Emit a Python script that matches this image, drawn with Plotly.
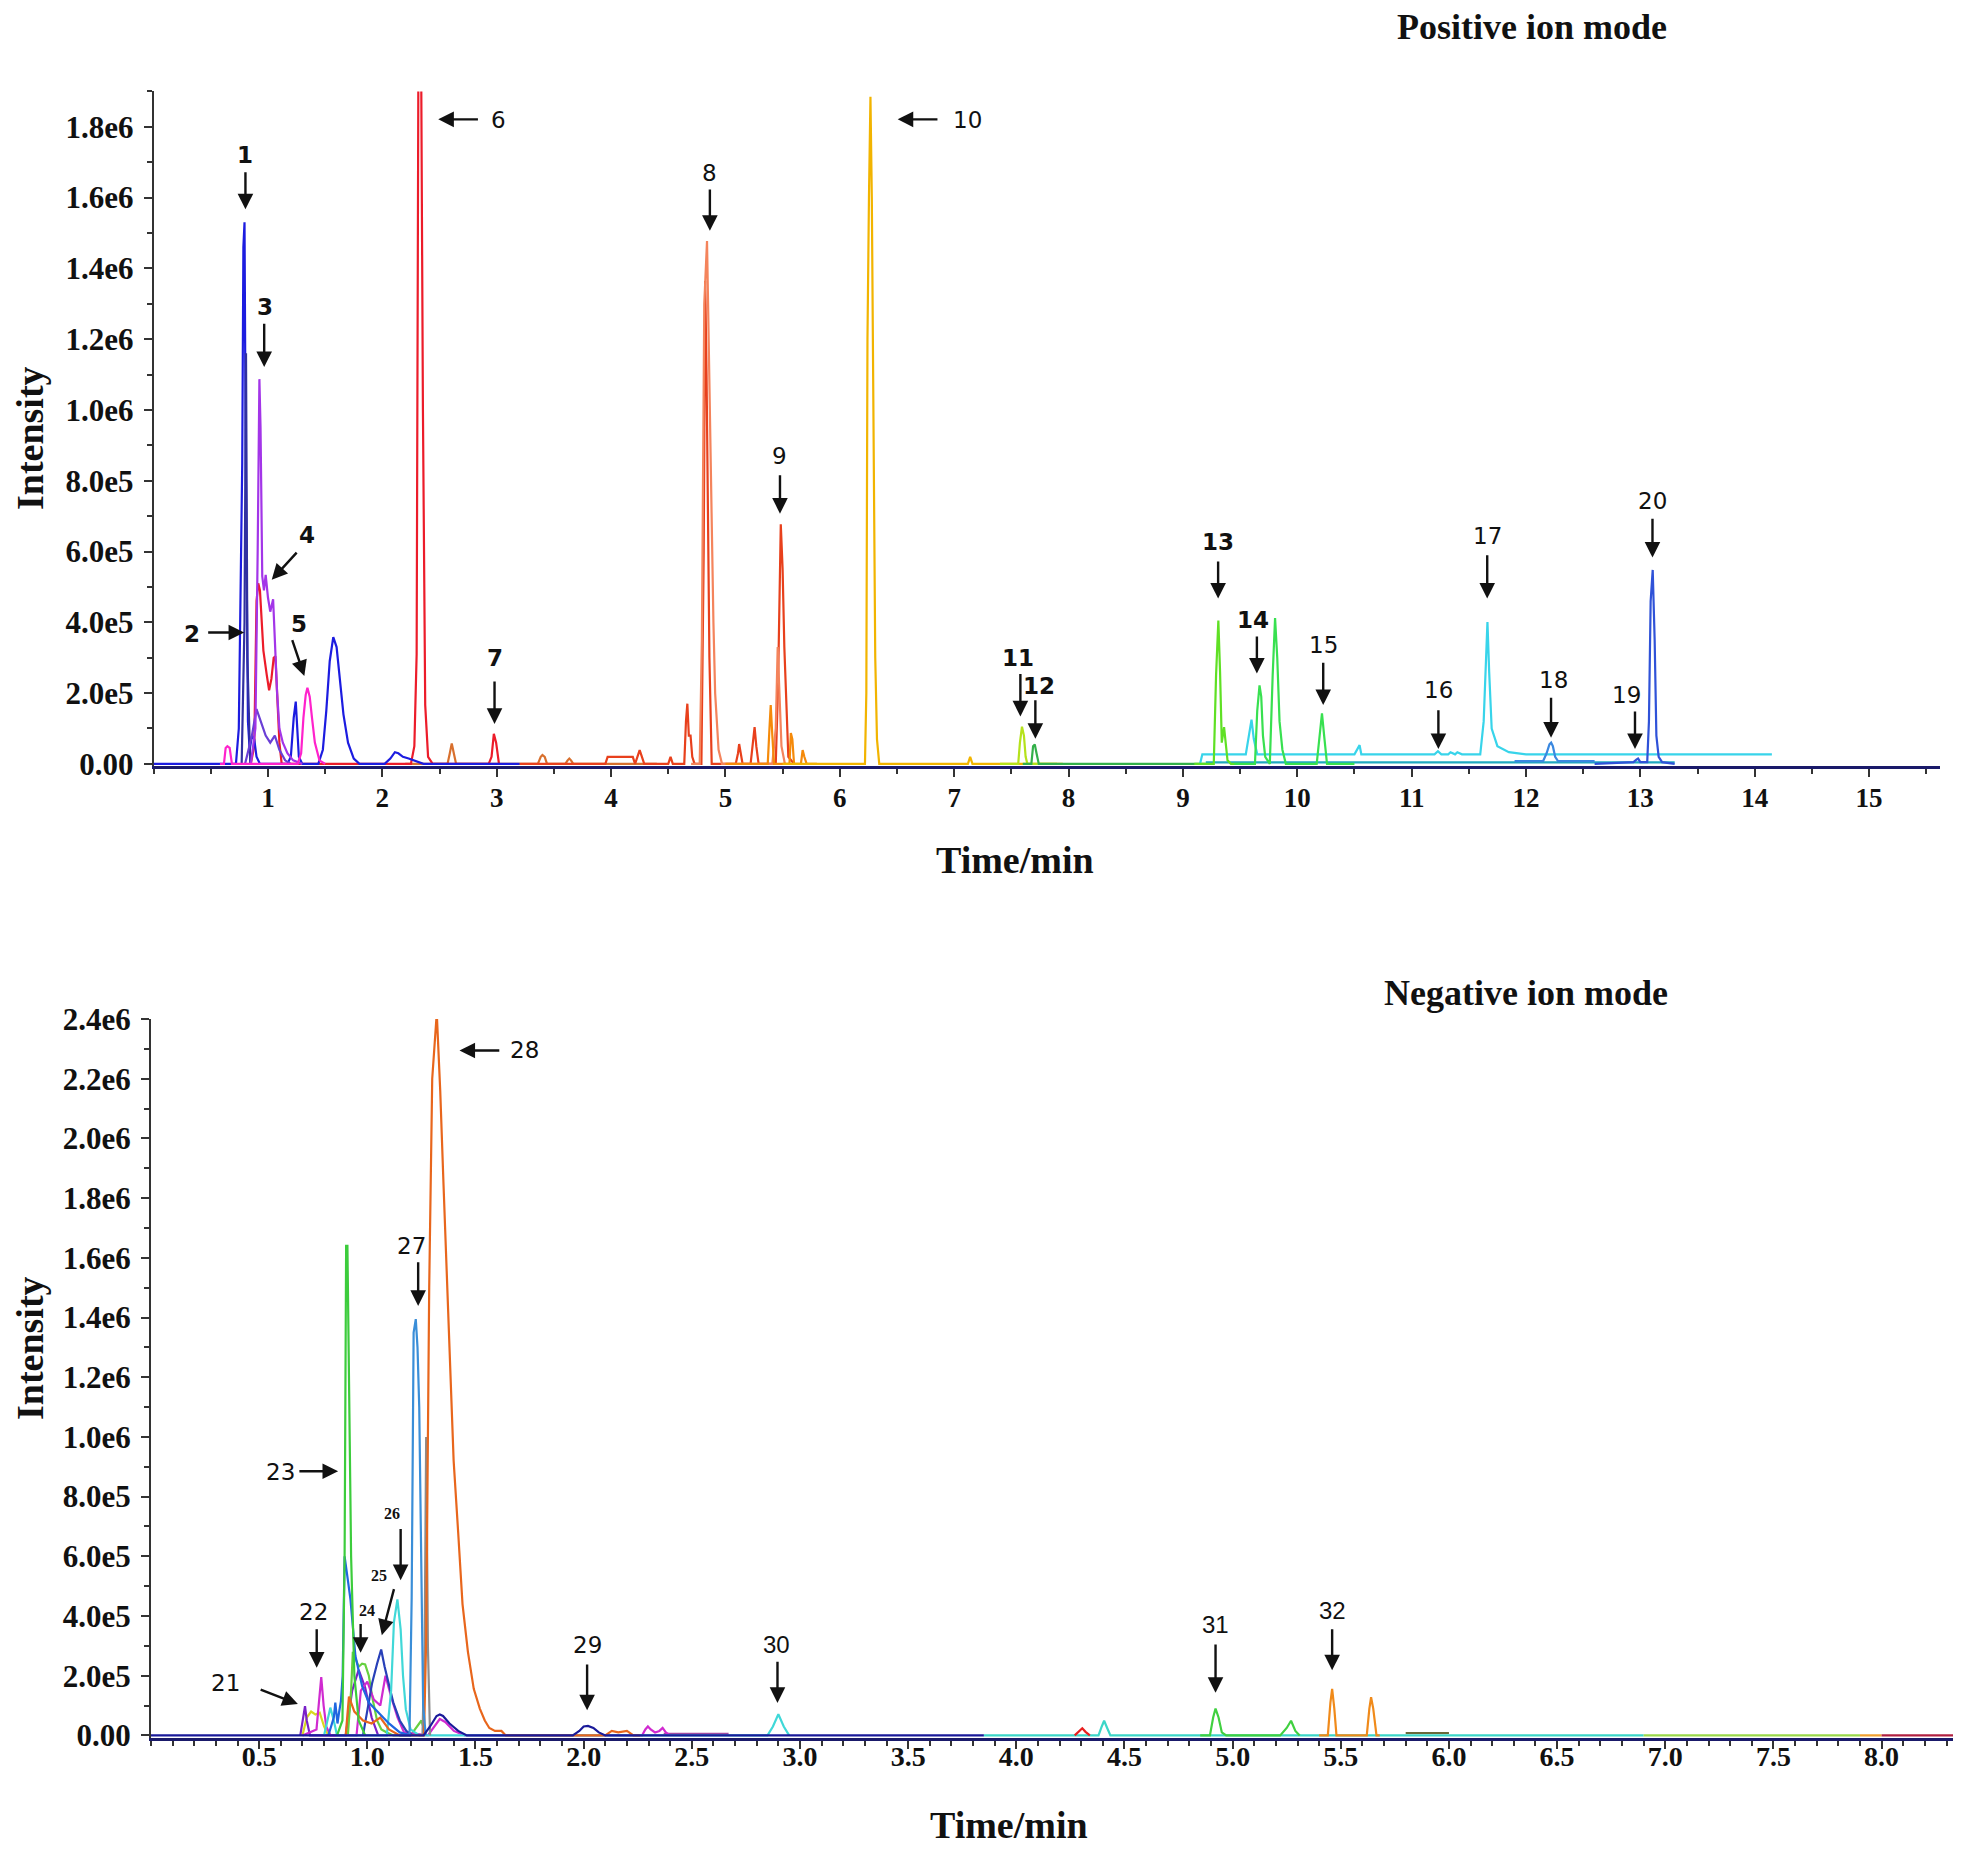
import plotly.graph_objects as go

W, H = 1963, 1872

# ====================== Positive ion mode (top panel) ======================
# retention time (min) and intensity, per coloured trace
pos_red_t = [0.85, 0.88, 0.90, 0.915, 0.93, 0.96, 0.99, 1.01, 1.03, 1.05, 1.065, 1.08, 1.10, 1.12,
             2.25, 2.28, 2.30, 2.315, 2.34, 2.355, 2.375, 2.40, 2.44, 2.93, 2.955, 2.975, 2.995, 3.02]
pos_red_i = [0, 5e4, 4.6e5, 5.1e5, 4.9e5, 3.2e5, 2.5e5, 2.08e5, 2.4e5, 3.0e5, 3.04e5, 1.8e5, 6e4, 0,
             0, 5e4, 3.1e5, 1.95e6, 1.95e6, 1.0e6, 1.66e5, 2e4, 0, 0, 2e4, 8.5e4, 6e4, 0]

pos_blue_t = [0.0, 0.72, 0.745, 0.76, 0.775, 0.785, 0.795, 0.805, 0.815, 0.825, 0.84, 0.86, 0.88, 0.90, 0.93,
              1.17, 1.20, 1.225, 1.243, 1.255, 1.27, 1.30, 1.44, 1.48, 1.51, 1.54, 1.571, 1.60, 1.63, 1.66,
              1.70, 1.75, 1.80, 2.02, 2.07, 2.11, 2.14, 2.18, 2.23, 2.29, 2.36, 3.20]
pos_blue_i = [0, 0, 1.0e5, 5.1e5, 8.5e5, 1.46e6, 1.53e6, 9.0e5, 3.9e5, 1.2e5, 4e4, 8e4, 7e4, 2e4, 0,
              0, 2e4, 1.3e5, 1.76e5, 9e4, 2e4, 0, 0, 4e4, 1.5e5, 2.9e5, 3.58e5, 3.3e5, 2.4e5, 1.4e5,
              6e4, 1.5e4, 0, 0, 1.5e4, 3.3e4, 3.0e4, 2.0e4, 1.5e4, 8e3, 0, 0]

pos_navy_t = [0.77, 0.795, 0.808, 0.82, 0.845]
pos_navy_i = [0, 4e5, 1.16e6, 3e5, 0]

pos_violet_t = [0.85, 0.89, 0.91, 0.925, 0.935, 0.95, 0.965, 0.98, 1.0, 1.02, 1.045, 1.06, 1.08,
                1.10, 1.13, 1.17, 1.22, 1.30]
pos_violet_i = [0, 1.0e5, 6e5, 1.087e6, 9.5e5, 5.3e5, 4.9e5, 5.34e5, 4.7e5, 4.3e5, 4.65e5, 3.4e5, 2.0e5,
                1.0e5, 6e4, 3e4, 1e4, 0]

pos_bviolet_t = [0.80, 0.86, 0.90, 0.94, 0.98, 1.02, 1.06, 1.10, 1.15, 1.20]
pos_bviolet_i = [0, 8e4, 1.55e5, 1.2e5, 8e4, 6e4, 8e4, 4e4, 1e4, 0]

pos_pink_t = [0.58, 0.615, 0.63, 0.645, 0.665, 0.685, 1.26, 1.29, 1.31, 1.33, 1.345, 1.365, 1.385,
              1.41, 1.45, 1.50]
pos_pink_i = [0, 0, 4.5e4, 5e4, 4.5e4, 0, 0, 3e4, 1.3e5, 1.95e5, 2.15e5, 1.9e5, 1.3e5, 6e4, 1e4, 0]

pos_brown_t = [2.20, 2.57, 2.59, 2.607, 2.625, 2.645, 3.36, 3.385, 3.40, 3.42, 3.44, 3.60, 3.62,
               3.635, 3.65, 3.67, 4.40]
pos_brown_i = [0, 0, 3e4, 5.8e4, 3e4, 0, 0, 2e4, 2.5e4, 2e4, 0, 0, 1e4, 1.5e4, 1e4, 0, 0]

pos_redor_t = [3.20, 3.95, 3.97, 4.19, 4.21, 4.23, 4.25, 4.27, 4.29, 4.50, 4.52, 4.54, 4.64, 4.655,
               4.667, 4.68, 4.695, 4.71, 4.73, 4.79, 4.81, 4.823, 4.835, 4.86, 4.88, 5.09, 5.11, 5.12,
               5.135, 5.15, 5.22, 5.24, 5.255, 5.27, 5.29, 5.44, 5.46, 5.484, 5.50, 5.515, 5.55, 5.60]
pos_redor_i = [0, 0, 2e4, 2e4, 0, 2e4, 3.9e4, 2e4, 0, 0, 2e4, 0, 0, 1.2e5,
               1.7e5, 8e4, 8e4, 2e4, 0, 0, 6e5, 1.364e6, 1.1e6, 3e5, 0, 0, 3e4, 5.6e4,
               3e4, 0, 0, 6e4, 1.04e5, 5e4, 0, 0, 2.2e5, 6.77e5, 5.5e5, 3.3e5, 2e4, 0]

pos_salmon_t = [4.70, 4.775, 4.794, 4.815, 4.839, 4.86, 4.879, 4.895, 4.91, 4.94, 4.97, 5.41, 5.44,
                5.457, 5.47, 5.49, 5.52]
pos_salmon_i = [0, 0, 3.5e5, 1.3e6, 1.477e6, 1.0e6, 7.08e5, 4e5, 2.0e5, 4e4, 0, 0, 1e5, 3.3e5, 2e5, 5e4, 0]

pos_orange_t = [5.0, 5.37, 5.385, 5.396, 5.41, 5.425, 5.56, 5.572, 5.585, 5.60, 5.66, 5.675, 5.69, 5.71, 5.80]
pos_orange_i = [0, 0, 1e5, 1.66e5, 8e4, 0, 0, 8.7e4, 7e4, 0, 0, 3.9e4, 2e4, 0, 0]

pos_gold_t = [5.50, 6.22, 6.232, 6.242, 6.255, 6.268, 6.28, 6.295, 6.31, 6.325, 6.345, 7.12, 7.14, 7.16, 7.95]
pos_gold_i = [0, 0, 2e5, 1.2e6, 1.6e6, 1.885e6, 1.6e6, 8.85e5, 3e5, 7e4, 0, 0, 2e4, 0, 0]

pos_ygreen_t = [7.40, 7.56, 7.575, 7.593, 7.61, 7.625, 7.64, 7.90]
pos_ygreen_i = [0, 0, 6e4, 1.05e5, 8e4, 2e4, 0, 0]

pos_green_t = [7.60, 7.675, 7.69, 7.705, 7.72, 7.74, 9.20]
pos_green_i = [0, 0, 5e4, 5.5e4, 3e4, 0, 0]

pos_lgreen_t = [9.10, 9.27, 9.29, 9.31, 9.325, 9.34, 9.36, 9.375, 9.39, 9.42, 9.50]
pos_lgreen_i = [0, 0, 2.5e5, 4.05e5, 2.6e5, 6e4, 1.04e5, 5e4, 1e4, 0, 0]

pos_green2_t = [9.45, 9.63, 9.65, 9.67, 9.685, 9.70, 9.72, 9.76, 9.785, 9.806, 9.825, 9.845, 9.87,
                9.90, 10.17, 10.195, 10.216, 10.235, 10.26, 10.50]
pos_green2_i = [0, 0, 1.5e5, 2.22e5, 1.9e5, 8e4, 2e4, 0, 2.5e5, 4.12e5, 3.0e5, 1.2e5, 4e4,
                0, 0, 9e4, 1.43e5, 8e4, 0, 0]

pos_teal_t = [9.20, 13.30]
pos_teal_i = [4e3, 4e3]

pos_cyan_t = [9.15, 9.17, 9.55, 9.58, 9.60, 9.62, 9.65, 10.50, 10.53, 10.545, 10.56, 11.20, 11.23,
              11.26, 11.32, 11.34, 11.38, 11.40, 11.44, 11.46, 11.60, 11.63, 11.648, 11.663, 11.678,
              11.70, 11.75, 11.85, 12.0, 14.15]
pos_cyan_i = [0, 2.7e4, 2.7e4, 8e4, 1.25e5, 7e4, 2.7e4, 2.7e4, 4.5e4, 5.3e4, 2.7e4, 2.7e4, 3.6e4,
              2.7e4, 2.7e4, 3.3e4, 2.7e4, 3.3e4, 2.7e4, 2.7e4, 2.7e4, 1.2e5, 3e5, 4.01e5, 2.6e5,
              1.0e5, 5e4, 3.3e4, 2.7e4, 2.7e4]

pos_steel_t = [11.90, 12.15, 12.18, 12.205, 12.22, 12.235, 12.255, 12.28, 12.60]
pos_steel_i = [8e3, 8e3, 3e4, 5.5e4, 6.0e4, 5e4, 2e4, 8e3, 8e3]

pos_royal_t = [12.60, 12.94, 12.965, 12.98, 13.0, 13.06, 13.075, 13.09, 13.108, 13.125, 13.14, 13.16,
               13.19, 13.30]
pos_royal_i = [0, 5e3, 1.2e4, 1.5e4, 5e3, 5e3, 1.2e5, 4.6e5, 5.48e5, 3.5e5, 8e4, 2e4, 5e3, 0]

pos_ytick_vals = [0, 2e5, 4e5, 6e5, 8e5, 1.0e6, 1.2e6, 1.4e6, 1.6e6, 1.8e6]
pos_ytick_text = ["0.00", "2.0e5", "4.0e5", "6.0e5", "8.0e5", "1.0e6", "1.2e6", "1.4e6", "1.6e6", "1.8e6"]
pos_xtick_vals = list(range(1, 16))
pos_xtick_text = [str(v) for v in pos_xtick_vals]

pos_label_text = ["1", "2", "3", "4", "5", "6", "7", "8", "9", "10", "11", "12", "13", "14", "15",
                  "16", "17", "18", "19", "20"]
pos_label_t = [0.803, 0.332, 0.978, 1.339, 1.274, 3.014, 2.981, 4.864, 5.477, 7.119, 7.557, 7.743,
               9.308, 9.614, 10.227, 11.234, 11.661, 12.241, 12.876, 13.106]
pos_label_i = [1.719e6, 3.68e5, 1.291e6, 6.47e5, 3.96e5, 1.818e6, 3.0e5, 1.669e6, 8.70e5, 1.818e6,
               3.0e5, 2.19e5, 6.26e5, 4.07e5, 3.36e5, 2.09e5, 6.44e5, 2.37e5, 1.94e5, 7.43e5]
pos_arrow_t0 = [0.803, 0.464, 0.967, 1.263, 1.208, 2.849, 2.981, 4.864, 5.477, 6.867, 7.579, 7.710,
                9.308, 9.647, 10.227, 11.234, 11.661, 12.219, 12.953, 13.106]
pos_arrow_i0 = [1.676e6, 3.71e5, 1.248e6, 6.01e5, 3.54e5, 1.821e6, 2.37e5, 1.627e6, 8.20e5, 1.821e6,
                2.58e5, 1.84e5, 5.76e5, 3.64e5, 2.90e5, 1.56e5, 5.94e5, 1.91e5, 1.52e5, 6.97e5]
pos_arrow_t1 = [0.803, 0.792, 0.967, 1.033, 1.318, 2.489, 2.981, 4.864, 5.477, 6.506, 7.579, 7.710,
                9.308, 9.647, 10.227, 11.234, 11.661, 12.219, 12.953, 13.106]
pos_arrow_i1 = [1.567e6, 3.71e5, 1.121e6, 5.20e5, 2.48e5, 1.821e6, 1.13e5, 1.506e6, 7.07e5, 1.821e6,
                1.34e5, 7.1e4, 4.67e5, 2.55e5, 1.66e5, 4.2e4, 4.67e5, 7.4e4, 4.2e4, 5.83e5]

# ====================== Negative ion mode (bottom panel) ======================
neg_navy_t = [0.0, 1.26, 1.29, 1.32, 1.335, 1.35, 1.38, 1.42, 1.46, 1.95, 1.98, 2.0, 2.02, 2.045,
              2.07, 2.10, 3.85]
neg_navy_i = [0, 0, 3e4, 6.5e4, 7e4, 6.5e4, 4e4, 1.5e4, 0, 0, 1.5e4, 3e4, 3.2e4, 2.5e4, 1e4, 0, 0]

neg_magenta_t = [0.70, 0.765, 0.775, 0.787, 0.798, 0.81, 0.83, 0.95, 0.97, 1.00, 1.03, 1.06, 1.084,
                 1.11, 1.14, 1.17, 1.28, 1.31, 1.335, 1.36, 1.40, 1.45, 2.27, 2.285, 2.297, 2.31,
                 2.33, 2.35, 2.365, 2.38, 2.40]
neg_magenta_i = [0, 2e4, 1.0e5, 1.95e5, 1.0e5, 3e4, 0, 0, 1.5e5, 1.8e5, 1.2e5, 1.0e5, 2.0e5,
                 1.3e5, 6e4, 1e4, 0, 3e4, 5.5e4, 4.5e4, 1.5e4, 0, 0, 2e4, 3e4, 2e4,
                 1e4, 1.5e4, 2.5e4, 1e4, 0]

neg_yellow_t = [0.70, 0.72, 0.74, 0.76, 0.78, 0.80, 0.82]
neg_yellow_i = [0, 6e4, 8e4, 7e4, 7.6e4, 3e4, 0]

neg_purple_t = [0.69, 0.705, 0.712, 0.72, 0.735, 0.90, 0.93, 0.96, 0.99, 1.02, 1.05]
neg_purple_i = [0, 6e4, 9.8e4, 5e4, 0, 0, 1.5e5, 2.2e5, 1.6e5, 6e4, 0]

neg_cyan_t = [0.80, 0.815, 0.829, 0.845, 0.86, 1.09, 1.11, 1.123, 1.139, 1.154, 1.165, 1.178, 1.20,
              1.24, 2.85, 2.875, 2.90, 2.925, 2.95]
neg_cyan_i = [0, 5e4, 9.3e4, 5e4, 0, 0, 1.5e5, 3.8e5, 4.56e5, 3.55e5, 2e5, 8.7e4, 2e4,
              0, 0, 3e4, 7.1e4, 3e4, 0]

neg_blue_t = [0.82, 0.845, 0.852, 0.862, 0.87, 0.878, 0.886, 0.895, 0.91, 0.922, 0.945, 0.976, 1.007,
              1.053, 1.10, 1.15, 1.20]
neg_blue_i = [0, 6e4, 1.1e5, 4e4, 8e4, 1.15e5, 2e5, 6.0e5, 5.2e5, 4.56e5, 2.66e5, 1.65e5, 1.1e5,
              7.6e4, 4e4, 1e4, 0]

neg_green23_t = [0.86, 0.885, 0.895, 0.902, 0.908, 0.915, 0.925, 0.94, 0.96, 0.99]
neg_green23_i = [0, 5e4, 6e5, 1.64e6, 1.64e6, 1.22e6, 6e5, 2e5, 5e4, 0]

neg_green24_t = [0.91, 0.925, 0.933, 0.945, 0.96, 0.976, 0.99, 1.007, 1.025, 1.045, 1.065, 1.09,
                 1.12, 1.20, 1.23, 1.25, 1.27]
neg_green24_i = [0, 1.5e5, 2.8e5, 2.6e5, 2.3e5, 2.4e5, 2.38e5, 2.0e5, 1.2e5, 5e4, 2e4, 1e4,
                 0, 0, 3e4, 5e4, 0]

neg_dblue_t = [0.98, 1.0, 1.022, 1.045, 1.064, 1.08, 1.10, 1.12, 1.15, 1.18, 1.21]
neg_dblue_i = [0, 8e4, 1.75e5, 2.4e5, 2.88e5, 2.3e5, 1.7e5, 1.1e5, 5e4, 1.5e4, 0]

neg_steel_t = [1.15, 1.195, 1.205, 1.214, 1.224, 1.232, 1.24, 1.25, 1.258, 1.27]
neg_steel_i = [0, 0, 4.6e5, 1.35e6, 1.395e6, 1.3e6, 1.1e6, 4.5e5, 1e5, 0]

neg_gray_t = [1.255, 1.265, 1.272, 1.28, 1.29]
neg_gray_i = [0, 3e5, 1.0e6, 3e5, 0]

neg_orange_t = [0.90, 0.915, 0.94, 0.98, 1.02, 1.06, 1.10, 1.15, 1.262, 1.272, 1.286, 1.30, 1.321,
                1.337, 1.352, 1.368, 1.385, 1.399, 1.42, 1.44, 1.465, 1.492, 1.52, 1.543, 1.564,
                1.59, 1.62, 1.64, 2.10, 2.13, 2.16, 2.20, 2.23, 2.26]
neg_orange_i = [0, 1.3e5, 8e4, 5e4, 4e4, 6e4, 2e4, 0, 0, 3.2e5, 1.5e6, 2.2e6, 2.42e6,
                2.16e6, 1.85e6, 1.53e6, 1.2e6, 9.2e5, 6.8e5, 4.4e5, 2.8e5, 1.56e5, 9e4, 5e4, 2.5e4,
                1.5e4, 1.5e4, 0, 0, 1.5e4, 1e4, 1.5e4, 0, 0]

neg_red_t = [4.27, 4.29, 4.305, 4.32, 4.34]
neg_red_i = [0, 1.5e4, 2.4e4, 1.2e4, 0]

neg_teal_t = [3.85, 4.38, 4.395, 4.406, 4.42, 4.435, 6.90]
neg_teal_i = [0, 0, 3e4, 4.9e4, 2.5e4, 0, 0]

neg_green31_t = [4.85, 4.895, 4.91, 4.921, 4.935, 4.95, 4.97, 5.22, 5.25, 5.27, 5.29, 5.31]
neg_green31_i = [0, 0, 6e4, 9.0e4, 6e4, 1e4, 0, 0, 2.5e4, 4.9e4, 1.5e4, 0]

neg_orange32_t = [5.40, 5.44, 5.452, 5.46, 5.47, 5.48, 5.60, 5.62, 5.632, 5.64, 5.65, 5.665, 5.68]
neg_orange32_i = [0, 0, 1.1e5, 1.56e5, 9e4, 0, 0, 0, 9e4, 1.28e5, 9e4, 0, 0]

neg_olive_t = [5.80, 6.00]
neg_olive_i = [8e3, 8e3]
neg_mauve_t = [2.37, 2.67]
neg_mauve_i = [5e3, 5e3]
neg_lgreen_t = [6.90, 7.90]
neg_lgreen_i = [0, 0]
neg_lorange_t = [7.90, 8.00]
neg_lorange_i = [0, 0]
neg_crimson_t = [8.00, 8.33]
neg_crimson_i = [0, 0]

neg_ytick_vals = [0, 2e5, 4e5, 6e5, 8e5, 1.0e6, 1.2e6, 1.4e6, 1.6e6, 1.8e6, 2.0e6, 2.2e6, 2.4e6]
neg_ytick_text = ["0.00", "2.0e5", "4.0e5", "6.0e5", "8.0e5", "1.0e6", "1.2e6", "1.4e6", "1.6e6",
                  "1.8e6", "2.0e6", "2.2e6", "2.4e6"]
neg_xtick_vals = [0.5, 1.0, 1.5, 2.0, 2.5, 3.0, 3.5, 4.0, 4.5, 5.0, 5.5, 6.0, 6.5, 7.0, 7.5, 8.0]
neg_xtick_text = ["%.1f" % v for v in neg_xtick_vals]

neg_label_text = ["21", "22", "23", "24", "25", "26", "27", "28", "29", "30", "31", "32"]
neg_label_t = [0.344, 0.749, 0.598, 0.998, 1.056, 1.113, 1.206, 1.727, 2.016, 2.890, 4.921, 5.460]
neg_label_i = [1.76e5, 4.15e5, 8.81e5, 4.2e5, 5.37e5, 7.43e5, 1.641e6, 2.295e6, 3.02e5, 3.06e5,
               3.73e5, 4.2e5]
neg_arrow_t0 = [0.500, 0.766, 0.679, 0.969, 1.125, 1.154, 1.235, 1.617, 2.016, 2.896, 4.921, 5.460]
neg_arrow_i0 = [1.55e5, 3.61e5, 8.85e5, 3.78e5, 4.95e5, 6.97e5, 1.590e6, 2.295e6, 2.43e5, 2.52e5,
                3.1e5, 3.61e5]
neg_arrow_t1 = [0.679, 0.766, 0.865, 0.969, 1.067, 1.154, 1.235, 1.426, 2.016, 2.896, 4.921, 5.460]
neg_arrow_i1 = [1.05e5, 2.27e5, 8.85e5, 2.77e5, 3.36e5, 5.20e5, 1.439e6, 2.295e6, 8.4e4, 1.09e5,
                1.43e5, 2.18e5]

# ---------------------------------------------------------------------------
pos_traces = [
    (pos_brown_t, pos_brown_i, "#d8702e"),
    (pos_redor_t, pos_redor_i, "#e8401c"),
    (pos_salmon_t, pos_salmon_i, "#f4845c"),
    (pos_orange_t, pos_orange_i, "#f58a0a"),
    (pos_gold_t, pos_gold_i, "#f2b400"),
    (pos_red_t, pos_red_i, "#ec1c2a"),
    (pos_blue_t, pos_blue_i, "#1c1ce0"),
    (pos_navy_t, pos_navy_i, "#3030a0"),
    (pos_bviolet_t, pos_bviolet_i, "#6a3fd6"),
    (pos_violet_t, pos_violet_i, "#a335e8"),
    (pos_pink_t, pos_pink_i, "#ff22cc"),
    (pos_ygreen_t, pos_ygreen_i, "#b5e21c"),
    (pos_green_t, pos_green_i, "#33b04a"),
    (pos_teal_t, pos_teal_i, "#1fa8c0"),
    (pos_cyan_t, pos_cyan_i, "#38d4ea"),
    (pos_lgreen_t, pos_lgreen_i, "#5fe024"),
    (pos_green2_t, pos_green2_i, "#38e050"),
    (pos_steel_t, pos_steel_i, "#3a88e0"),
    (pos_royal_t, pos_royal_i, "#2f52d8"),
]

neg_traces = [
    (neg_teal_t, neg_teal_i, "#3cd6c8"),
    (neg_lgreen_t, neg_lgreen_i, "#9ad84a"),
    (neg_lorange_t, neg_lorange_i, "#f0a030"),
    (neg_crimson_t, neg_crimson_i, "#b02040"),
    (neg_olive_t, neg_olive_i, "#6a6a3a"),
    (neg_mauve_t, neg_mauve_i, "#a04aa0"),
    (neg_yellow_t, neg_yellow_i, "#d8d820"),
    (neg_purple_t, neg_purple_i, "#7a22c8"),
    (neg_green24_t, neg_green24_i, "#66d040"),
    (neg_magenta_t, neg_magenta_i, "#d02ad0"),
    (neg_dblue_t, neg_dblue_i, "#2840b8"),
    (neg_cyan_t, neg_cyan_i, "#40d8d8"),
    (neg_gray_t, neg_gray_i, "#8c8c8c"),
    (neg_orange_t, neg_orange_i, "#e8661c"),
    (neg_blue_t, neg_blue_i, "#1f66e0"),
    (neg_green23_t, neg_green23_i, "#3ccc3c"),
    (neg_steel_t, neg_steel_i, "#3a8ed8"),
    (neg_navy_t, neg_navy_i, "#1a1a9a"),
    (neg_red_t, neg_red_i, "#e82020"),
    (neg_green31_t, neg_green31_i, "#40d040"),
    (neg_orange32_t, neg_orange32_i, "#f08a1a"),
]

fig = go.Figure()
for t, i, c in pos_traces:
    fig.add_trace(go.Scatter(x=t, y=i, mode="lines", line=dict(color=c, width=2.2),
                             xaxis="x", yaxis="y", hoverinfo="skip"))
for t, i, c in neg_traces:
    fig.add_trace(go.Scatter(x=t, y=i, mode="lines", line=dict(color=c, width=2.2),
                             xaxis="x2", yaxis="y2", hoverinfo="skip"))

SERIF = "Liberation Serif"
SANS = "DejaVu Sans"
PAGE_OFFSET = 8  # default body margin of the html page


def px_x(p):
    return (p - PAGE_OFFSET) / W


def px_y(p):
    return 1 - (p - PAGE_OFFSET) / H


tickfont = dict(family=SERIF, size=31, color="#111", weight="bold")
xtickfont = dict(family=SERIF, size=27, color="#111", weight="bold")

common_x = dict(showgrid=False, zeroline=False, showline=True, linecolor="#1a1a6a", linewidth=3,
                ticks="outside", ticklen=8, tickwidth=2, tickcolor="#333", layer="below traces",
                automargin=False)
common_y = dict(showgrid=False, zeroline=False, showline=True, linecolor="#333", linewidth=2,
                ticks="outside", ticklen=8, tickwidth=2, tickcolor="#333", layer="below traces",
                automargin=False)

fig.update_layout(
    width=W, height=H, margin=dict(l=0, r=0, t=0, b=0, pad=0, autoexpand=False),
    paper_bgcolor="white", plot_bgcolor="white", showlegend=False,
    xaxis=dict(common_x, domain=[px_x(153.6), px_x(1940)], range=[0, 15.62], anchor="y",
               tickmode="array", tickvals=pos_xtick_vals, ticktext=pos_xtick_text,
               tickfont=xtickfont, ticklabelstandoff=-2,
               minor=dict(dtick=0.5, ticklen=5, tickwidth=1.5, tickcolor="#333", ticks="outside")),
    yaxis=dict(common_y, domain=[px_y(766), px_y(91.4)], range=[-6000, 1.9e6], anchor="x",
               tickmode="array", tickvals=pos_ytick_vals, ticktext=pos_ytick_text,
               tickfont=tickfont, ticklabelstandoff=4,
               minor=dict(dtick=1e5, ticklen=5, tickwidth=1.5, tickcolor="#333", ticks="outside")),
    xaxis2=dict(common_x, domain=[px_x(151), px_x(1953)], range=[0, 8.33], anchor="y2",
                tickmode="array", tickvals=neg_xtick_vals, ticktext=neg_xtick_text,
                tickfont=dict(family=SERIF, size=28, color="#111", weight="bold"),
                ticklabelstandoff=-16,
                minor=dict(dtick=0.1, ticklen=5, tickwidth=1.5, tickcolor="#333", ticks="outside")),
    yaxis2=dict(common_y, domain=[px_y(1737.5), px_y(1019.1)], range=[-7000, 2.4e6], anchor="x2",
                tickmode="array", tickvals=neg_ytick_vals, ticktext=neg_ytick_text,
                tickfont=tickfont, ticklabelstandoff=4,
                minor=dict(dtick=1e5, ticklen=5, tickwidth=1.5, tickcolor="#333", ticks="outside")),
)

ann = []
# panel titles and axis titles
title_font = dict(family=SERIF, size=36, color="#111", weight="bold")
axis_font = dict(family=SERIF, size=38, color="#111", weight="bold")
for txt, x, y, f, ang in [
    ("Positive ion mode", 1532, 27.5, title_font, 0),
    ("Negative ion mode", 1526, 993, title_font, 0),
    ("Time/min", 1015, 860, axis_font, 0),
    ("Time/min", 1009, 1825, axis_font, 0),
    ("Intensity", 30, 438, axis_font, -90),
    ("Intensity", 30, 1348, axis_font, -90),
]:
    ann.append(dict(text=txt, x=px_x(x), y=px_y(y), xref="paper", yref="paper", showarrow=False,
                    xanchor="center", yanchor="middle", font=f, textangle=ang))

bold_pos = {"1", "2", "3", "4", "5", "7", "11", "12", "13", "14"}
for k, txt in enumerate(pos_label_text):
    f = dict(family=SANS, size=23, color="#111", weight="bold" if txt in bold_pos else "normal")
    ann.append(dict(text=txt, x=pos_label_t[k], y=pos_label_i[k], xref="x", yref="y",
                    showarrow=False, xanchor="center", yanchor="middle", font=f))
    ann.append(dict(text="", x=pos_arrow_t1[k], y=pos_arrow_i1[k], xref="x", yref="y",
                    ax=pos_arrow_t0[k], ay=pos_arrow_i0[k], axref="x", ayref="y",
                    showarrow=True, arrowhead=2, arrowsize=1.3, arrowwidth=2.4, arrowcolor="#111"))

for k, txt in enumerate(neg_label_text):
    if txt in ("24", "25", "26"):
        f = dict(family=SERIF, size=16, color="#111", weight="bold")
    elif txt in ("30", "31", "32"):
        f = dict(family="Liberation Sans", size=24, color="#111")
    else:
        f = dict(family=SANS, size=23, color="#111")
    ann.append(dict(text=txt, x=neg_label_t[k], y=neg_label_i[k], xref="x2", yref="y2",
                    showarrow=False, xanchor="center", yanchor="middle", font=f))
    ann.append(dict(text="", x=neg_arrow_t1[k], y=neg_arrow_i1[k], xref="x2", yref="y2",
                    ax=neg_arrow_t0[k], ay=neg_arrow_i0[k], axref="x2", ayref="y2",
                    showarrow=True, arrowhead=2, arrowsize=1.3, arrowwidth=2.4, arrowcolor="#111"))

fig.update_layout(annotations=ann)
fig.write_html("out.html")
